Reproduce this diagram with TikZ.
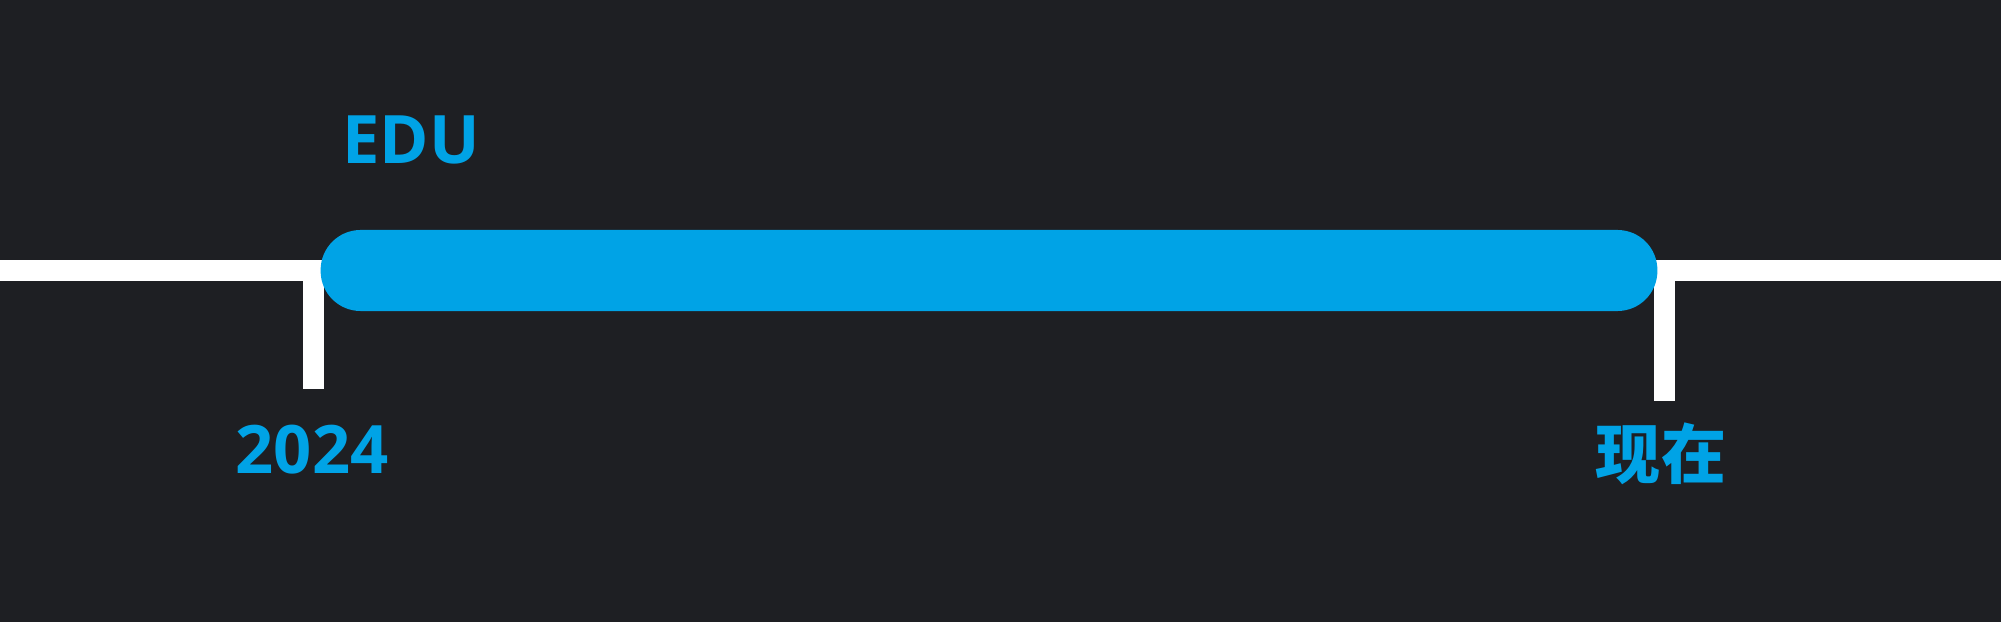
\documentclass[tikz,border=0pt]{standalone}
\usepackage{fontspec}
\setmainfont{Open Sans}
\newfontfamily\cjk{Noto Sans CJK SC}
\definecolor{bgc}{RGB}{30,31,35}
\definecolor{tblue}{RGB}{0,163,230}
\begin{document}
\begin{tikzpicture}[x=0.01cm,y=-0.01cm,
  axis/.style={draw=white,line width=0.21cm,line join=miter,line cap=butt},
  bar/.style={fill=tblue,rounded corners=0.4cm,minimum width=13.36cm,minimum height=0.81cm,inner sep=0pt},
  lbl/.style={text=tblue,font=\fontsize{19}{23}\selectfont\bfseries,inner sep=0pt}]
\fill[bgc] (0,0) rectangle (2001,622);
\useasboundingbox (0,0) rectangle (2001,622);
\coordinate (lstart) at (0,270.5);
\coordinate (lcorner) at (313.5,270.5);
\coordinate (lend) at (313.5,389);
\coordinate (rstart) at (2001,270.5);
\coordinate (rcorner) at (1664.5,270.5);
\coordinate (rend) at (1664.5,401);
\draw[axis] (lstart) -- (lcorner) -- (lend);
\draw[axis] (rstart) -- (rcorner) -- (rend);
\node[bar] (bar) at (989,270.5) {};
\node[lbl] (edu) at (411,140) {EDU};
\node[lbl] (y2024) at (312,450) {2024};
\node[lbl,font=\fontsize{18.5}{22}\selectfont\cjk\bfseries] (now) at (1661,454) {现在};
\end{tikzpicture}
\end{document}
